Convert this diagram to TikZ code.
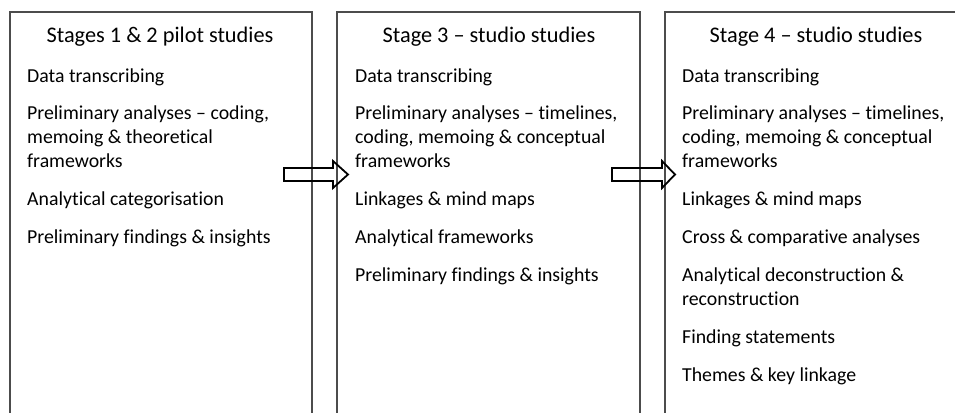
\documentclass[tikz,border=0pt]{standalone}
\usepackage{fontspec}
\setmainfont{Carlito}[Ligatures=NoCommon]
\begin{document}
\begin{tikzpicture}[x=1pt,y=-1pt,
  boxline/.style={draw=black!70, line width=1.3pt},
  title/.style={anchor=base, inner sep=0pt, font=\fontsize{22.3}{27}\selectfont},
  item/.style={anchor=base west, inner sep=0pt, align=flush left, text width=300pt, font=\fontsize{19.8}{24}\selectfont},
  blockarrow/.style={draw=black, line width=1.8pt, line join=miter, fill=none}]
\useasboundingbox (0,0) rectangle (955,412);
\clip (0,0) rectangle (955,412);
% boxes
\draw[boxline] (10,430) -- (10,12) -- (312,12) -- (312,430);
\draw[boxline] (337,430) -- (337,12) -- (640,12) -- (640,430);
\draw[boxline] (665,430) -- (665,12) -- (967,12) -- (967,430);
% box 1
\node[title] (t1) at (160,42) {Stages 1 \& 2 pilot studies};
\node[item] (a1) at (27,82) {Data transcribing};
\node[item] (a2) at (27,119) {Preliminary analyses – coding,\\memoing \& theoretical\\frameworks};
\node[item] (a3) at (27,205) {Analytical categorisation};
\node[item] (a4) at (27,243) {Preliminary findings \& insights};
% box 2
\node[title] (t2) at (489,42) {Stage 3 – studio studies};
\node[item] (b1) at (355,82) {Data transcribing};
\node[item] (b2) at (355,119) {Preliminary analyses – timelines,\\coding, memoing \& conceptual\\frameworks};
\node[item] (b3) at (355,205) {Linkages \& mind maps};
\node[item] (b4) at (355,243) {Analytical frameworks};
\node[item] (b5) at (355,281) {Preliminary findings \& insights};
% box 3
\node[title] (t3) at (816,42) {Stage 4 – studio studies};
\node[item] (c1) at (682,82) {Data transcribing};
\node[item] (c2) at (682,119) {Preliminary analyses – timelines,\\coding, memoing \& conceptual\\frameworks};
\node[item] (c3) at (682,205) {Linkages \& mind maps};
\node[item] (c4) at (682,243) {Cross \& comparative analyses};
\node[item] (c5) at (682,281) {Analytical deconstruction \&\\reconstruction};
\node[item] (c6) at (682,343) {Finding statements};
\node[item] (c7) at (682,381) {Themes \& key linkage};
% arrows
\draw[blockarrow] (284,168) -- (333,168) -- (333,161) -- (348,174.5) -- (333,188) -- (333,181) -- (284,181) -- cycle;
\draw[blockarrow] (612,168) -- (662,168) -- (662,161) -- (675,174.5) -- (662,188) -- (662,181) -- (612,181) -- cycle;
\end{tikzpicture}
\end{document}
